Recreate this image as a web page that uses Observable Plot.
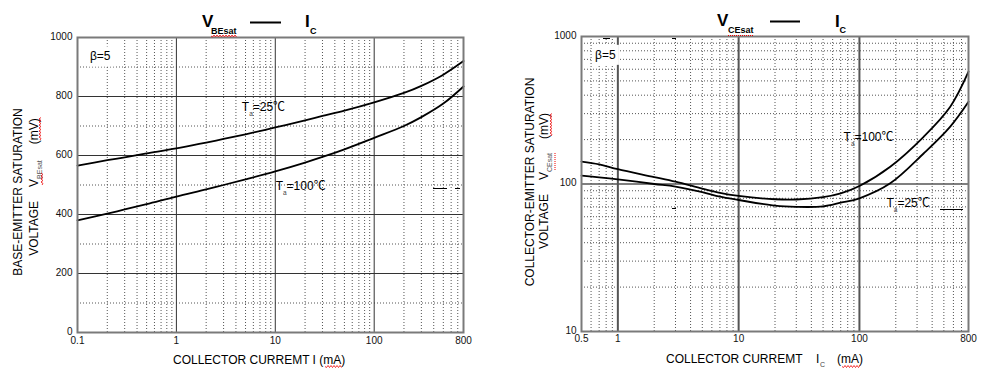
<!DOCTYPE html>
<html><head><meta charset="utf-8">
<script src="https://cdn.jsdelivr.net/npm/d3@7"></script>
<script src="https://cdn.jsdelivr.net/npm/@observablehq/plot@0.6"></script>
<style>
body{margin:0;background:#fff;}
#wrap{position:relative;width:996px;height:378px;overflow:hidden;font-family:"Liberation Sans",Arial,"Noto Sans CJK SC",sans-serif;}
#left,#right{position:absolute;top:0;width:498px;height:378px;}
#left{left:0}#right{left:498px}
#overlay{position:absolute;left:0;top:0;pointer-events:none}
</style></head><body>
<div id="wrap"><div id="left"></div><div id="right"></div><svg id="overlay" width="996" height="378"></svg></div>
<script>
// ---- data: VBEsat vs IC (left) ----
const vbeCurrent = [0.1,0.2,0.3,0.5,1,2,3,5,10,20,30,50,100,200,300,500,800];
const vbe25  = [566,584,594,607,624,644,656,672,695,719,734,752,780,812,836,874,920];
const vbe100 = [380,403,417,435,461,485,500,519,546,576,595,621,660,700,730,776,834];
// ---- data: VCEsat vs IC (right) ----
const vceCurrent = [0.5,0.7,1,2,3,5,7,10,20,30,50,70,100,180,340,565,800];
const vce100 = [142,136,126,111.5,103.6,93,87,83,78.8,78.5,81.5,86.5,97,131,209,334,577];
const vce25  = [113.8,111,107.6,100,96,88,82,77.9,71.3,70,70.5,74.7,80,101,161,245,361];
// ---- ticks / grids ----
const vbeXTicks = [0.1,1,10,100,800];
const vbeYTicks = [0,200,400,600,800,1000];
const vbeXMajor = [1,10,100];
const vbeXMinor = [0.2,0.3,0.4,0.5,0.6,0.7,0.8,0.9,2,3,4,5,6,7,8,9,20,30,40,50,60,70,80,90,200,300,400,500,600,700];
const vbeYMajor = [200,400,600,800];
const vbeYMinor = [100,300,500,700,900];
const vceXTicks = [0.5,1,10,100,800];
const vceYTicks = [10,100,1000];
const vceXMajor = [1,10,100];
const vceXMinor = [0.6,0.7,0.8,0.9,2,3,4,5,6,7,8,9,20,30,40,50,60,70,80,90,200,300,400,500,600,700];
const vceYMajor = [100];
const vceYMinor = [20,30,40,50,60,70,80,90,200,300,400,500,600,700,800,900];
// ---- annotations (data coords) ----
const vbeNotes = [
  {x:0.135, y:935, main:"β=5", box:true},
  {x:4.64, y:763, main:"T", sub:"a", rest:"=25℃"},
  {x:10.2, y:495, main:"T", sub:"a", rest:"=100℃"}
];
const vceNotes = [
  {x:0.653, y:749, main:"β=5", box:true},
  {x:74.6, y:208, main:"T", sub:"a", rest:"=100℃"},
  {x:169, y:74.3, main:"T", sub:"a", rest:"=25℃"}
];

const FONT = "Liberation Sans, Arial, 'Noto Sans CJK SC', sans-serif";
const rows = (xs, a, b) => xs.map((c,i)=>({ic:c, v:a[i], t:"a"})).concat(xs.map((c,i)=>({ic:c, v:b[i], t:"b"})));

function note(plot, n){
  const px = plot.scale("x").apply(n.x), py = plot.scale("y").apply(n.y);
  const g = d3.select(plot).append("g");
  const t = g.append("text").attr("x",px).attr("y",py).attr("dy","0.36em").attr("text-anchor","start")
    .attr("font-size",12).attr("font-family",FONT).attr("fill","#000");
  t.append("tspan").text(n.main);
  if(n.sub){
    t.append("tspan").attr("font-size",6.5).attr("dy",5).attr("fill","#444").text(n.sub);
    t.append("tspan").attr("font-size",12).attr("dy",-5).text(n.rest);
  }
  if(n.box){
    const b = t.node().getBBox();
    g.insert("rect","text").attr("x",b.x-3).attr("y",b.y-3).attr("width",b.width+6).attr("height",b.height+6).attr("fill","#fff");
  }
}

function chart(o){
  const dot = {stroke:"#555", strokeWidth:1, strokeDasharray:"1,2"};
  return Plot.plot({
    width:498, height:378,
    marginLeft:o.ml, marginRight:o.mr, marginTop:o.mt, marginBottom:o.mb,
    style:{fontFamily:FONT, fontSize:"10px", color:"#111", background:"transparent"},
    x:{type:"log", domain:o.xd, axis:null},
    y:{type:o.yt, domain:o.yd, axis:null},
    marks:[
      Plot.ruleX(o.xMinor, dot),
      Plot.ruleY(o.yMinor, dot),
      Plot.ruleX(o.xMajor, {stroke:o.majC, strokeWidth:o.majW}),
      Plot.ruleY(o.yMajor, {stroke:o.majC, strokeWidth:o.majWy}),
      Plot.line(o.data, {x:"ic", y:"v", z:"t", curve:"catmull-rom", stroke:"#000", strokeWidth:1.8}),
      Plot.frame({stroke:"#7a7a7a", strokeWidth:2}),
      Plot.text(o.xt, {x:d=>d, text:d=>String(d), frameAnchor:"bottom", dy:o.xdy, fontSize:10, fill:"#111"}),
      Plot.text(o.ytk, {y:d=>d, text:d=>String(d), frameAnchor:"left", textAnchor:"end", dx:-5, dy:-1, fontSize:10, fill:"#111"})
    ]
  });
}

const leftPlot = chart({
  ml:77, mr:35, mt:37, mb:46, xd:[0.1,800], yt:"linear", yd:[0,1000],
  xMinor:vbeXMinor, yMinor:vbeYMinor, xMajor:vbeXMajor, yMajor:vbeYMajor,
  majC:"#333", majW:1, majWy:1, data:rows(vbeCurrent,vbe25,vbe100),
  xt:vbeXTicks, ytk:vbeYTicks, xdy:11.5
});
document.getElementById("left").appendChild(leftPlot);
vbeNotes.forEach(n=>note(leftPlot,n));

const rightPlot = chart({
  ml:83, mr:28, mt:36, mb:47, xd:[0.5,800], yt:"log", yd:[10,1000],
  xMinor:vceXMinor, yMinor:vceYMinor, xMajor:vceXMajor, yMajor:vceYMajor,
  majC:"#555", majW:2, majWy:1.5, data:rows(vceCurrent,vce100,vce25),
  xt:vceXTicks, ytk:vceYTicks, xdy:10
});
document.getElementById("right").appendChild(rightPlot);
vceNotes.forEach(n=>note(rightPlot,n));

// ---- overlay texts (titles, axis labels) ----
const ov = d3.select("#overlay").attr("font-family",FONT);
function txt(x,y,s,size,opt={}){
  const t = ov.append("text").attr("x",x).attr("y",y).attr("font-size",size).attr("fill",opt.fill||"#000").text(s);
  if(opt.bold) t.attr("font-weight","bold");
  return t;
}
function seg(x1,y1,x2,y2,w,c){ ov.append("line").attr("x1",x1).attr("y1",y1).attr("x2",x2).attr("y2",y2).attr("stroke",c||"#000").attr("stroke-width",w); }
function wavy(x1,y1,x2,y2,dotted){
  const dx=x2-x1, dy=y2-y1, L=Math.hypot(dx,dy), ux=dx/L, uy=dy/L, nx=-uy, ny=ux;
  if(dotted){ ov.append("line").attr("x1",x1).attr("y1",y1).attr("x2",x2).attr("y2",y2).attr("stroke","#e00").attr("stroke-width",1).attr("stroke-dasharray","1,1"); return; }
  let d=`M${x1},${y1}`; let s=1;
  for(let k=1.5;k<=L;k+=1.5){ d+=` L${x1+ux*k+nx*s},${y1+uy*k+ny*s}`; s=-s; }
  ov.append("path").attr("d",d).attr("fill","none").attr("stroke","#e00").attr("stroke-width",0.8);
}
// left title
txt(202,27,"V",17,{bold:true}); txt(211,34,"BEsat",9,{bold:true}); seg(250,22.5,281,22.5,2);
txt(305,27,"I",17,{bold:true}); txt(310,33.5,"C",9,{bold:true}); wavy(211,36,237,36);
// right title
txt(717,26,"V",17,{bold:true}); txt(728,33,"CEsat",9,{bold:true}); seg(770,21.5,800,21.5,2);
txt(835,27,"I",17,{bold:true}); txt(839.5,33,"C",9,{bold:true}); wavy(728,35.5,754,35.5,true);
// x labels
txt(173,364,"COLLECTOR CURREMT I (mA)",12); wavy(325,366.5,342,366.5);
txt(666,363,"COLLECTOR CURREMT",12); txt(816,363,"I",12); txt(820,367,"C",7,{fill:"#444"}); txt(837,363,"(mA)",12); wavy(842,366.5,860,366.5);
// rotated y labels
function rot(x,y,parts){
  const t = ov.append("text").attr("transform",`translate(${x},${y}) rotate(-90)`).attr("text-anchor","middle").attr("font-size",12);
  parts.forEach(p=>{ const s=t.append("tspan").text(p.s); if(p.size) s.attr("font-size",p.size); if(p.dx) s.attr("dx",p.dx); if(p.dy) s.attr("dy",p.dy); if(p.fill) s.attr("fill",p.fill); });
}
rot(21.5,192,[{s:"BASE-EMITTER SATURATION"}]);
rot(37.5,187,[{s:"VOLTAGE"},{s:"V",dx:14},{s:"BEsat",size:7,dy:4,fill:"#555"},{s:"(mV)",dx:16,dy:-4}]);
wavy(40,140,40,117); wavy(42,185,42,172);
rot(533.5,182,[{s:"COLLECTOR-EMITTER SATURATION"}]);
rot(548,181,[{s:"VOLTAGE"},{s:"V",dx:14},{s:"CEsat",size:7,dy:4,fill:"#555"},{s:"(mV)",dx:14,dy:-4}]);
wavy(551,136,551,113); wavy(555,170,555,152,true);
// small stray marks of the original figure
seg(433,188.5,447,188.5,1); seg(455,188.5,460,188.5,1);
seg(603,38.5,610,38.5,1); seg(672,38.5,676,38.5,1); seg(672,208.5,676,208.5,1); seg(940,209.5,963,209.5,1);
</script>
</body></html>
